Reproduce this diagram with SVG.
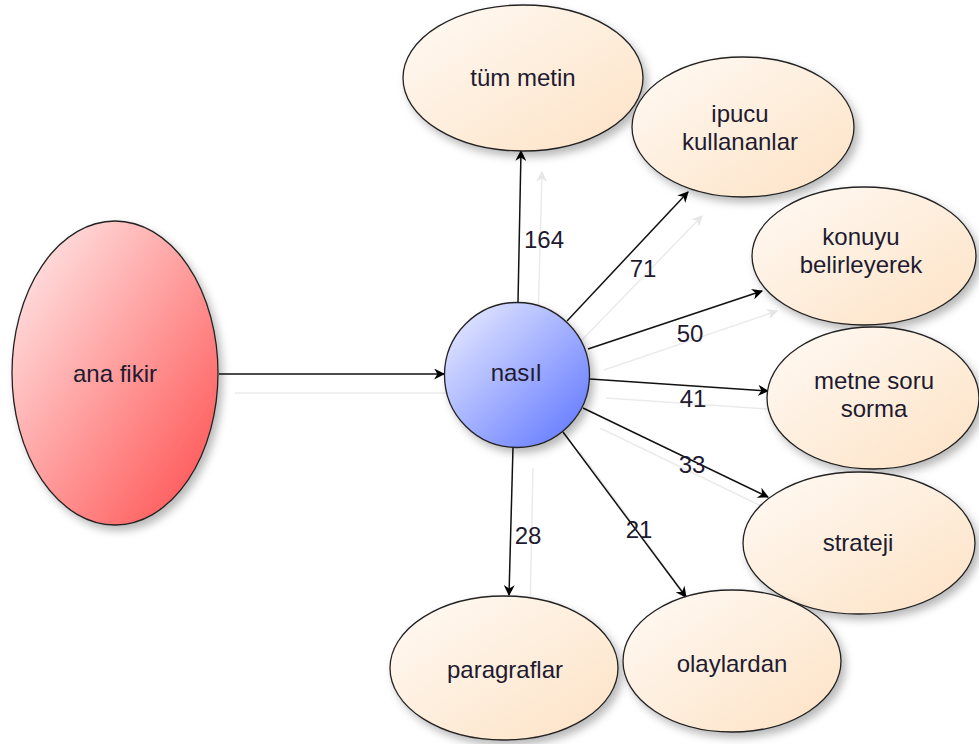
<svg xmlns="http://www.w3.org/2000/svg" width="979" height="744" viewBox="0 0 979 744">
  <defs>
    <linearGradient id="gRed" x1="0" y1="0" x2="1" y2="1">
      <stop offset="0" stop-color="#fff0f0"/>
      <stop offset="1" stop-color="#ff4a4a"/>
    </linearGradient>
    <linearGradient id="gBlue" x1="0" y1="0" x2="1" y2="1">
      <stop offset="0" stop-color="#eef0ff"/>
      <stop offset="1" stop-color="#5a72ff"/>
    </linearGradient>
    <linearGradient id="gPeach" x1="0" y1="0" x2="1" y2="1">
      <stop offset="0" stop-color="#fffaf5"/>
      <stop offset="1" stop-color="#fde2c4"/>
    </linearGradient>
    <filter id="shadow" x="-20%" y="-20%" width="150%" height="150%">
      <feDropShadow dx="4" dy="5" stdDeviation="4" flood-color="#000" flood-opacity="0.28"/>
    </filter>
    <marker id="arrow" viewBox="0 0 10 10" refX="9" refY="5" markerWidth="11" markerHeight="11" markerUnits="userSpaceOnUse" orient="auto">
      <path d="M0,0 L10,5 L0,10 L3,5 Z" fill="#000"/>
    </marker>
    <marker id="arrowGhost" viewBox="0 0 10 10" refX="9" refY="5" markerWidth="11" markerHeight="11" markerUnits="userSpaceOnUse" orient="auto">
      <path d="M0,0 L10,5 L0,10 L3,5 Z" fill="#e6e6e6"/>
    </marker>
  </defs>
  <style>
    .node { stroke: #222; stroke-width: 1.3; filter: url(#shadow); }
    .label { font-family: "Liberation Sans", Arial, sans-serif; font-size: 24px; fill: #1e1a30; text-anchor: middle; }
    .edge { stroke: #111; stroke-width: 1.5; fill: none; marker-end: url(#arrow); }
    .ghost { stroke: #ebebeb; stroke-width: 1.5; fill: none; marker-end: url(#arrowGhost); }
  </style>
  <rect width="979" height="744" fill="#fff"/>

  <!-- connector shadows and connectors -->
  <g id="connectors">
    <g id="edge-shadows">
      <line class="ghost" x1="235" y1="393" x2="462" y2="393"/>
      <line class="ghost" x1="538" y1="322" x2="542" y2="172"/>
      <line class="ghost" x1="580" y1="342" x2="702" y2="216"/>
      <line class="ghost" x1="604" y1="370" x2="777" y2="311"/>
      <line class="ghost" x1="606" y1="398" x2="782" y2="410"/>
      <line class="ghost" x1="600" y1="428" x2="782" y2="516"/>
      <line class="ghost" x1="580" y1="452" x2="700" y2="615"/>
      <line class="ghost" x1="533" y1="468" x2="530" y2="612"/>
    </g>
    <line class="edge" x1="219" y1="374" x2="444" y2="374"/>
    <line class="edge" x1="518" y1="302" x2="521" y2="151"/>
    <line class="edge" x1="567" y1="321" x2="688" y2="192"/>
    <line class="edge" x1="588" y1="349" x2="762" y2="291"/>
    <line class="edge" x1="590" y1="379" x2="768" y2="391"/>
    <line class="edge" x1="583" y1="408" x2="768" y2="497"/>
    <line class="edge" x1="563" y1="432" x2="686" y2="597"/>
    <line class="edge" x1="513" y1="447" x2="509" y2="595"/>
    <g id="edge-labels">
      <text class="label" x="544" y="248">164</text>
      <text class="label" x="643" y="277">71</text>
      <text class="label" x="690" y="342">50</text>
      <text class="label" x="693" y="407">41</text>
      <text class="label" x="692" y="473">33</text>
      <text class="label" x="639" y="538">21</text>
      <text class="label" x="528" y="544">28</text>
    </g>
  </g>

  <g id="node-ana-fikir">
    <ellipse class="node" cx="115" cy="373" rx="103" ry="152" fill="url(#gRed)"/>
    <text class="label" x="115" y="382">ana fikir</text>
  </g>
  <g id="node-nasil">
    <circle class="node" cx="517" cy="375" r="72.5" fill="url(#gBlue)"/>
    <text class="label" x="516" y="381">nasıl</text>
  </g>
  <g id="node-tum-metin">
    <ellipse class="node" cx="523" cy="78" rx="120" ry="73" fill="url(#gPeach)"/>
    <text class="label" x="523" y="86">tüm metin</text>
  </g>
  <g id="node-ipucu">
    <ellipse class="node" cx="743" cy="127" rx="111" ry="70" fill="url(#gPeach)"/>
    <text class="label" x="740" y="122">ipucu</text>
    <text class="label" x="740" y="150">kullananlar</text>
  </g>
  <g id="node-konuyu">
    <ellipse class="node" cx="864" cy="256" rx="112" ry="69" fill="url(#gPeach)"/>
    <text class="label" x="861" y="245">konuyu</text>
    <text class="label" x="861" y="273">belirleyerek</text>
  </g>
  <g id="node-metne">
    <ellipse class="node" cx="873" cy="398" rx="106" ry="71" fill="url(#gPeach)"/>
    <text class="label" x="874" y="389">metne soru</text>
    <text class="label" x="874" y="417">sorma</text>
  </g>
  <g id="node-strateji">
    <ellipse class="node" cx="859" cy="543" rx="116" ry="71" fill="url(#gPeach)"/>
    <text class="label" x="858" y="551">strateji</text>
  </g>
  <g id="node-paragraflar">
    <ellipse class="node" cx="504" cy="668" rx="114" ry="72" fill="url(#gPeach)"/>
    <text class="label" x="505" y="678">paragraflar</text>
  </g>
  <g id="node-olaylardan">
    <ellipse class="node" cx="732" cy="661" rx="109" ry="71" fill="url(#gPeach)"/>
    <text class="label" x="732" y="672">olaylardan</text>
  </g>
</svg>
